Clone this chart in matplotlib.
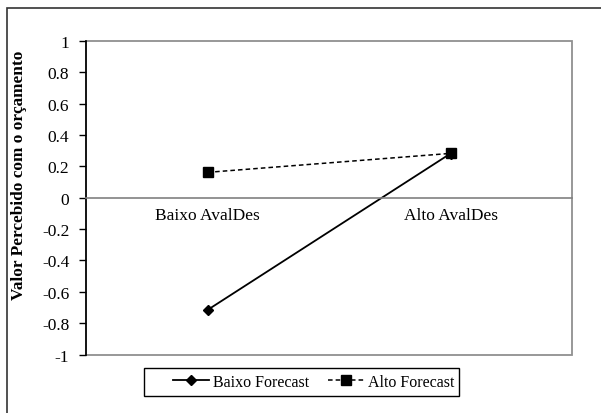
import matplotlib.pyplot as plt
from matplotlib.patches import Rectangle

plt.rcParams['font.family'] = ['Liberation Serif', 'DejaVu Serif']

# Data
categories = ['Baixo AvalDes', 'Alto AvalDes']
baixo_forecast = [-0.716, 0.282]
alto_forecast = [0.162, 0.283]
series_names = ['Baixo Forecast', 'Alto Forecast']
yticks = [-1, -0.8, -0.6, -0.4, -0.2, 0, 0.2, 0.4, 0.6, 0.8, 1]

W, H = 601, 414
fig = plt.figure(figsize=(W / 100, H / 100), dpi=100)
ax = fig.add_axes([86 / W, 1 - 355.5 / H, (572 - 86) / W, (355.5 - 42) / H])

x = list(range(len(categories)))
ax.plot(x, baixo_forecast, color='black', lw=1.3, marker='D', ms=5,
        label=series_names[0])
ax.plot(x, alto_forecast, color='black', lw=1.1, ls=(0, (3, 2)), marker='s',
        ms=6.5, label=series_names[1])

ax.set_xlim(-0.5, len(categories) - 0.5)
ax.set_ylim(-1, 1)
ax.set_yticks(yticks)
ax.set_yticklabels([f'{v:g}' for v in yticks])

# category axis crosses at zero (Excel style)
ax.spines['bottom'].set_position(('data', 0))
ax.spines['bottom'].set_color('#808080')
ax.spines['bottom'].set_linewidth(1.2)
ax.spines['top'].set_visible(False)
ax.spines['right'].set_visible(False)
ax.spines['left'].set_color('black')
ax.spines['left'].set_linewidth(1.2)
ax.set_xticks(x)
ax.set_xticklabels(categories)
ax.tick_params(axis='x', length=0, pad=7, labelsize=12.5)
ax.tick_params(axis='y', length=5, width=1, direction='out', pad=7,
               labelsize=12.5)

# plot area border (gray) top/right/bottom
ax.add_patch(Rectangle((0, 0), 1, 1, transform=ax.transAxes, fill=False,
                       edgecolor='#909090', lw=1.3, zorder=0, clip_on=False))

ax.set_ylabel('Valor Percebido com o orçamento', fontsize=12.4, fontweight='bold')
ax.yaxis.set_label_coords((27 - 86) / 486, 0.5758)

# legend entries, with an Excel-like box drawn separately
ax.legend(loc='center', bbox_to_anchor=(313.5 / W, 1 - 383 / H),
          bbox_transform=fig.transFigure, ncol=2, frameon=False,
          fontsize=11.5, handlelength=2.3, columnspacing=1.2,
          handletextpad=0.2, borderpad=0.2)
fig.add_artist(Rectangle((144 / W, 1 - 397 / H), (459 - 144) / W, 28 / H,
                         transform=fig.transFigure, fill=False,
                         edgecolor='black', lw=1.0))

# outer chart border
fig.add_artist(Rectangle((7 / W, -0.05), 1.1, 1 - 9 / H + 0.05,
                         transform=fig.transFigure, fill=False,
                         edgecolor='#333333', lw=1.2))

fig.savefig('out.png', dpi=100)
